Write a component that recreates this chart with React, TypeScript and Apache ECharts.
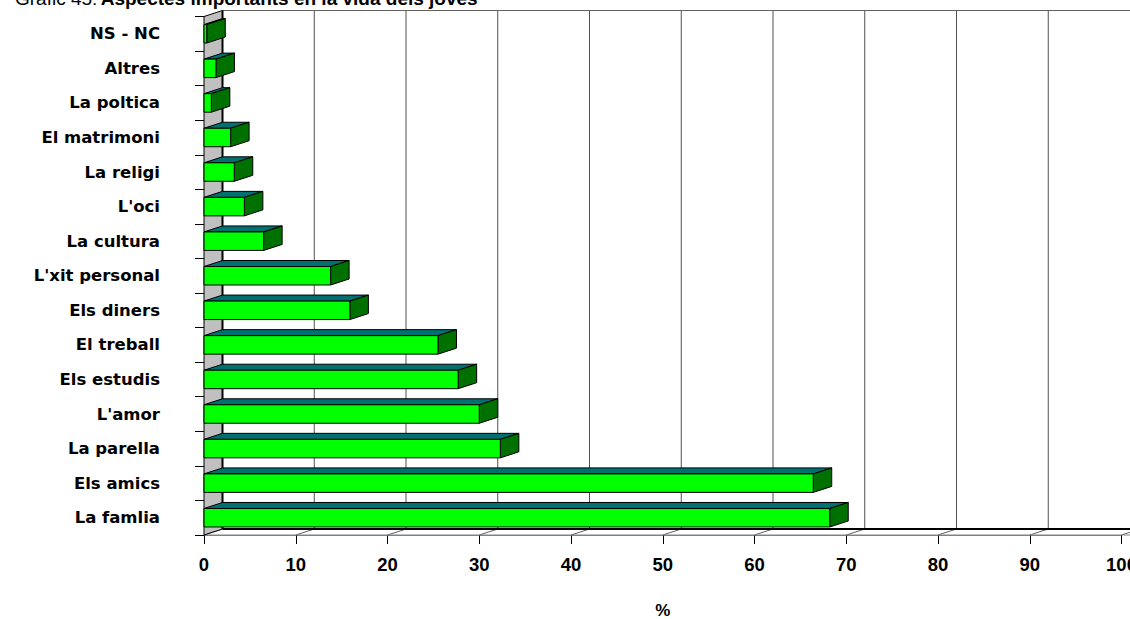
import React, { useEffect, useRef } from "react";
import * as echarts from "echarts";

const titleLead = "Gràfic 45:";
const titleMain = "Aspectes importants en la vida dels joves";
const categories = [
  "NS - NC",
  "Altres",
  "La poltica",
  "El matrimoni",
  "La religi",
  "L'oci",
  "La cultura",
  "L'xit personal",
  "Els diners",
  "El treball",
  "Els estudis",
  "L'amor",
  "La parella",
  "Els amics",
  "La famlia",
];
const values = [0.3, 1.3, 0.8, 2.9, 3.3, 4.4, 6.5, 13.8, 15.9, 25.5, 27.7, 30.0, 32.3, 66.4, 68.2];
const xTicks = [0, 10, 20, 30, 40, 50, 60, 70, 80, 90, 100];
const axisName = "%";

const DX = 18.5;
const DY = -6;

export default function App() {
  const ref = useRef<HTMLDivElement>(null);
  useEffect(() => {
    if (!ref.current) return;
    const chart = echarts.init(ref.current, null, { renderer: "svg" });

    const frameRender = (params: any, api: any) => {
      const cs = params.coordSys;
      const top = cs.y;
      const bot = cs.y + cs.height;
      const X = (v: number) => api.coord([v, 0])[0];
      const x0 = X(xTicks[0]);
      const xN = X(xTicks[xTicks.length - 1]);
      const children: any[] = [];
      xTicks.slice(1).forEach((v) => {
        children.push({
          type: "line",
          shape: { x1: X(v) + DX, y1: top + DY, x2: X(v) + DX, y2: bot + DY },
          style: { stroke: "#505050", lineWidth: 1 },
        });
      });
      children.push({
        type: "line",
        shape: { x1: x0 + DX, y1: top + DY, x2: xN + DX + 40, y2: top + DY },
        style: { stroke: "#606060", lineWidth: 1 },
      });
      children.push({
        type: "polygon",
        shape: { points: [[x0, bot], [x0 + DX, bot + DY], [xN + DX, bot + DY], [xN, bot]] },
        style: { fill: "#ffffff", stroke: "none" },
      });
      xTicks.forEach((v) => {
        children.push({
          type: "line",
          shape: { x1: X(v), y1: bot, x2: X(v) + DX, y2: bot + DY },
          style: { stroke: "#606060", lineWidth: 1 },
        });
      });
      children.push({
        type: "line",
        shape: { x1: x0 + DX, y1: bot + DY, x2: xN + DX + 40, y2: bot + DY },
        style: { stroke: "#000000", lineWidth: 2 },
      });
      children.push({
        type: "line",
        shape: { x1: x0, y1: bot, x2: xN + 20, y2: bot },
        style: { stroke: "#808080", lineWidth: 1 },
      });
      children.push({
        type: "polygon",
        shape: { points: [[x0, top], [x0 + DX, top + DY], [x0 + DX, bot + DY], [x0, bot]] },
        style: { fill: "#c0c0c0", stroke: "#000000", lineWidth: 1 },
      });
      children.push({
        type: "line",
        shape: { x1: x0 + DX, y1: top + DY, x2: x0 + DX, y2: bot + DY },
        style: { stroke: "#000000", lineWidth: 2 },
      });
      return { type: "group", children };
    };

    const barRender = (params: any, api: any) => {
      const v = api.value(0);
      const c = api.value(1);
      const p0 = api.coord([0, c]);
      const p1 = api.coord([v, c]);
      const bandH = api.size([0, 1])[1];
      const h = bandH * 0.535;
      const yT = p0[1] - h / 2;
      const yB = yT + h;
      const x0 = p0[0];
      const x1 = p1[0];
      const st = { stroke: "#000000", lineWidth: 1 };
      return {
        type: "group",
        children: [
          {
            type: "polygon",
            shape: { points: [[x0, yT], [x0 + DX, yT + DY], [x1 + DX, yT + DY], [x1, yT]] },
            style: { fill: "#007070", ...st },
          },
          {
            type: "polygon",
            shape: { points: [[x1, yT], [x1 + DX, yT + DY], [x1 + DX, yB + DY], [x1, yB]] },
            style: { fill: "#007000", ...st },
          },
          {
            type: "rect",
            shape: { x: x0, y: yT, width: x1 - x0, height: h },
            style: { fill: "#00ff00", ...st },
          },
        ],
      };
    };

    chart.setOption({
      animation: false,
      backgroundColor: "#ffffff",
      grid: {
        left: 204,
        right: 8.5,
        top: 16.5,
        bottom: 84,
        containLabel: false,
        outerBoundsMode: "none",
      },
      xAxis: {
        type: "value",
        min: 0,
        max: 100,
        interval: 10,
        axisLine: { show: true, lineStyle: { color: "#808080", width: 1 } },
        axisTick: { show: true, length: 9, lineStyle: { color: "#000000", width: 1 } },
        splitLine: { show: false },
        axisLabel: {
          color: "#000000",
          fontSize: 18.5,
          fontWeight: "bold",
          fontFamily: "Liberation Sans",
          margin: 19,
          lineHeight: 20,
        },
        name: axisName,
        nameLocation: "middle",
        nameGap: 75,
        nameTextStyle: {
          color: "#000000",
          fontSize: 17,
          fontWeight: "bold",
          fontFamily: "Liberation Sans",
          verticalAlign: "middle",
        },
      },
      yAxis: {
        type: "category",
        data: categories,
        inverse: true,
        axisLine: { show: true, lineStyle: { color: "#000000", width: 1 } },
        axisTick: { show: true, length: 9, lineStyle: { color: "#000000", width: 1 } },
        splitLine: { show: false },
        axisLabel: {
          color: "#000000",
          fontSize: 16.5,
          fontWeight: "bold",
          fontFamily: "DejaVu Sans",
          margin: 44,
        },
      },
      graphic: [
        {
          type: "text",
          x: 15,
          y: -2,
          style: {
            text: "{n|" + titleLead + "} {b|" + titleMain + "}",
            verticalAlign: "middle",
            fill: "#000000",
            rich: {
              n: { fontSize: 19, fontFamily: "Liberation Sans", fill: "#000000" },
              b: { fontSize: 19, fontWeight: "bold", fontFamily: "Liberation Sans", fill: "#000000" },
            },
          },
        },
      ],
      series: [
        {
          type: "custom",
          name: "frame",
          z: 1,
          silent: true,
          renderItem: frameRender,
          data: [[0, 0]],
        },
        {
          type: "custom",
          name: "bars",
          z: 3,
          renderItem: barRender,
          encode: { x: 0, y: 1 },
          data: values.map((v, i) => [v, i]),
        },
      ],
    });
    return () => chart.dispose();
  }, []);
  return (
    <div
      ref={ref}
      style={{ position: "fixed", left: 0, top: 0, width: 1130, height: 619, background: "#fff" }}
    />
  );
}
